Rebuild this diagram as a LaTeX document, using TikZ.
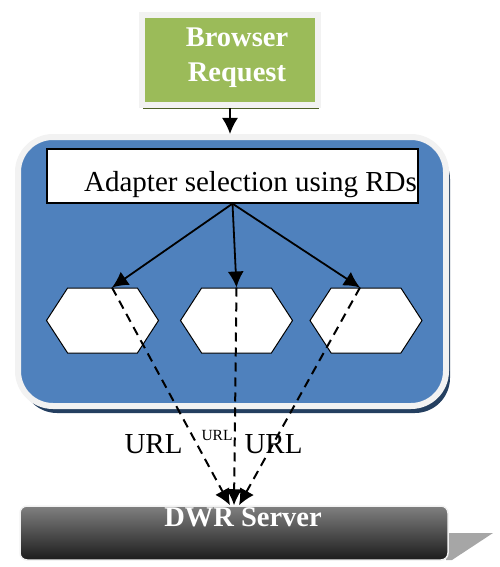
\documentclass[tikz,border=0pt]{standalone}
\usepackage{fontspec}
\setmainfont{Liberation Serif}
\usetikzlibrary{arrows.meta,shapes.symbols,shadows}

\definecolor{reqgreen}{RGB}{155,187,89}
\definecolor{reqolive}{RGB}{79,98,40}
\definecolor{boxblue}{RGB}{79,129,189}
\definecolor{boxnavy}{RGB}{36,63,96}
\definecolor{rimgray}{RGB}{242,242,242}
\definecolor{srvtop}{RGB}{128,128,128}
\definecolor{srvbot}{RGB}{28,28,28}
\definecolor{srvshade}{RGB}{166,166,166}

\begin{document}
\begin{tikzpicture}[x=1pt,y=-1pt,
  big/.style={font=\fontsize{29}{32}\selectfont, inner sep=0pt},
  small/.style={font=\fontsize{15.5}{17}\selectfont, inner sep=0pt},
  bigbold/.style={font=\fontsize{28.5}{35}\selectfont\bfseries, text=white, align=center, inner sep=0pt},
  hexbox/.style={signal, signal to=east and west, signal pointer angle=114, draw, fill=white,
    line width=1pt, minimum width=112pt, minimum height=65pt, inner sep=0pt},
  arrowline/.style={-{Latex[length=16pt,width=16pt]}, line width=1.8pt},
  urlline/.style={arrowline, dash pattern=on 9pt off 6pt, line width=2pt}]
\useasboundingbox (0,0) rectangle (500,567);

% request
\node[draw=rimgray, line width=6pt, fill=reqgreen, minimum width=176pt, minimum height=90pt, inner sep=0pt,
  drop shadow={shadow xshift=1pt, shadow yshift=-4pt, fill=reqolive, opacity=1}] (req) at (230,60) {};
\node[bigbold] (reqtxt) at (237,58) {Browser\\Request};

% adapter area
\node[draw=rimgray, line width=6pt, fill=boxblue, rounded corners=35pt, minimum width=428pt, minimum height=269pt,
  drop shadow={shadow xshift=4pt, shadow yshift=-7pt, fill=boxnavy, opacity=1}] (area) at (232,271.5) {};
\draw[arrowline] (req.south) -- (req.south |- area.north);

\node[draw, fill=white, line width=1.3pt, minimum width=371pt, minimum height=54pt, inner sep=0pt] (select) at (232.5,176) {};
\node[big, anchor=base east] (seltxt) at (417,191) {Adapter selection using RDs};

\node[hexbox] (hexL) at (102.5,320.5) {};
\node[hexbox] (hexM) at (236.5,320.5) {};
\node[hexbox] (hexR) at (366,320.5) {};

\draw[arrowline] (select.south) -- ([xshift=9.5pt]hexL.north);
\draw[arrowline] (select.south) -- (hexM.north);
\draw[arrowline] (select.south) -- ([xshift=-6pt]hexR.north);

% server
\fill[srvshade] (446,533) -- (493,533) -- (452,560) -- (446,560) -- cycle;
\node[draw=rimgray, line width=1.5pt, top color=srvtop, bottom color=srvbot, rounded corners=7pt,
  minimum width=428pt, minimum height=54pt, inner sep=0pt] (dwr) at (234,533) {};
\node[bigbold, anchor=base] (dwrtxt) at (243,526) {DWR Server};

\draw[urlline] ([xshift=9.5pt]hexL.north) -- ([xshift=-4pt]dwr.north);
\draw[urlline] (hexM.north) -- (dwr.north);
\draw[urlline] ([xshift=-6pt]hexR.north) -- ([xshift=5pt]dwr.north);

\node[big, anchor=base] (urlL) at (153.5,453) {URL};
\node[small, anchor=base] (urlM) at (217,440) {URL};
\node[big, anchor=base] (urlR) at (273.5,453) {URL};
\end{tikzpicture}
\end{document}
